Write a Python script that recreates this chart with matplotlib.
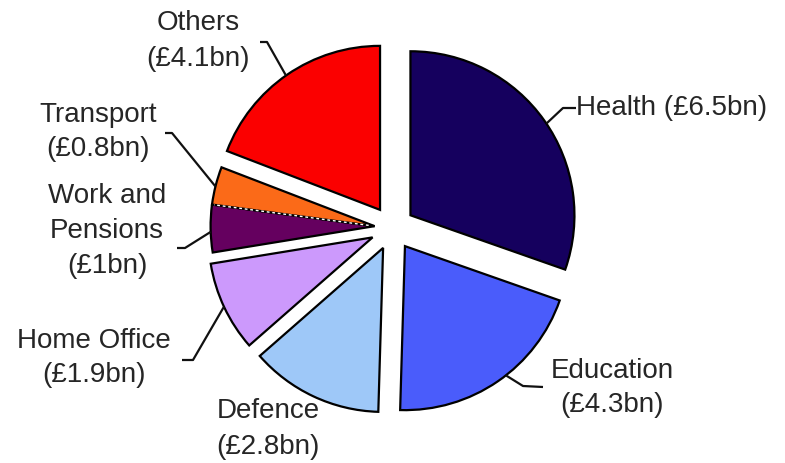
import numpy as np
import matplotlib
matplotlib.use("Agg")
import matplotlib.pyplot as plt

# Departmental spending (£bn)
departments = ["Health", "Education", "Defence", "Home Office",
               "Work and\nPensions", "Transport", "Others"]
spending_bn = [6.5, 4.3, 2.8, 1.9, 1, 0.8, 4.1]
colors = ["#15005e", "#4a5cfb", "#9ec8f8", "#cc99fc",
          "#65005f", "#fb6a18", "#fb0000"]

W, H = 785, 463
fig = plt.figure(figsize=(W / 100, H / 100), dpi=100)
ax = fig.add_axes([0, 0, 1, 1])

R = 164
C = (392.5, 235)
# explode offsets are in data units (pixels here)
pull = 22
explode = [pull, pull, pull, pull, 0.0, 0.0, pull]

wedges, _ = ax.pie(spending_bn, explode=explode, colors=colors,
                   startangle=90, counterclock=False, radius=R, center=C,
                   wedgeprops=dict(edgecolor="black", linewidth=1.6))

# Work and Pensions + Transport are pulled out together as one block
wp, tr = wedges[4], wedges[5]
mid = np.deg2rad((min(wp.theta1, tr.theta1) + max(wp.theta2, tr.theta2)) / 2)
shift = 18
for w in (wp, tr):
    w.set_center((C[0] + shift * np.cos(mid), C[1] + shift * np.sin(mid)))

# light dashed seam between the two joined slices
seam = np.deg2rad(max(wp.theta1, tr.theta1))
cx, cy = wp.center
ax.plot([cx + 6 * np.cos(seam), cx + (R - 2) * np.cos(seam)],
        [cy + 6 * np.sin(seam), cy + (R - 2) * np.sin(seam)],
        color="white", lw=1.0, ls=(0, (2, 2)), zorder=5)

ax.set_xlim(0, W)
ax.set_ylim(0, H)
ax.set_aspect("equal")
ax.axis("off")

# label layout: text pos, alignment, arc angle for leader, elbow, leader end
layout = {
    0: dict(xy=(576, H - 108), ha="left",
            ang=34, elbow=(563, H - 108), end=(576, H - 108)),
    1: dict(xy=(612, H - 388), ha="center",
            ang=-52, elbow=(523, H - 386), end=(543, H - 387)),
    2: dict(xy=(268, H - 429), ha="center"),
    3: dict(xy=(94, H - 358), ha="center",
            ang=205, elbow=(193, H - 360), end=(182, H - 360)),
    4: dict(xy=(107, H - 231), ha="center",
            ang=182, elbow=(185, H - 248), end=(177, H - 248)),
    5: dict(xy=(98, H - 132), ha="center",
            ang=166, elbow=(172, H - 133), end=(165, H - 133)),
    6: dict(xy=(198, H - 41), ha="center",
            ang=125, elbow=(267, H - 42), end=(260, H - 42)),
}

text_kw = dict(fontsize=20, family=["Liberation Sans", "DejaVu Sans"],
               color="#262626", linespacing=1.45)

for i, (name, val) in enumerate(zip(departments, spending_bn)):
    lay = layout[i]
    amount = f"(£{val:g}bn)"
    sep = " " if i == 0 else "\n"
    ax.text(lay["xy"][0], lay["xy"][1], f"{name}{sep}{amount}",
            ha=lay["ha"], va="center", multialignment="center", **text_kw)
    if "ang" in lay:
        wx, wy = wedges[i].center
        a = np.deg2rad(lay["ang"])
        p0 = (wx + R * np.cos(a), wy + R * np.sin(a))
        xs = [p0[0], lay["elbow"][0], lay["end"][0]]
        ys = [p0[1], lay["elbow"][1], lay["end"][1]]
        ax.plot(xs, ys, color="#111111", lw=1.6, zorder=6,
                solid_capstyle="butt", solid_joinstyle="round")

fig.savefig("out.png", dpi=100)
